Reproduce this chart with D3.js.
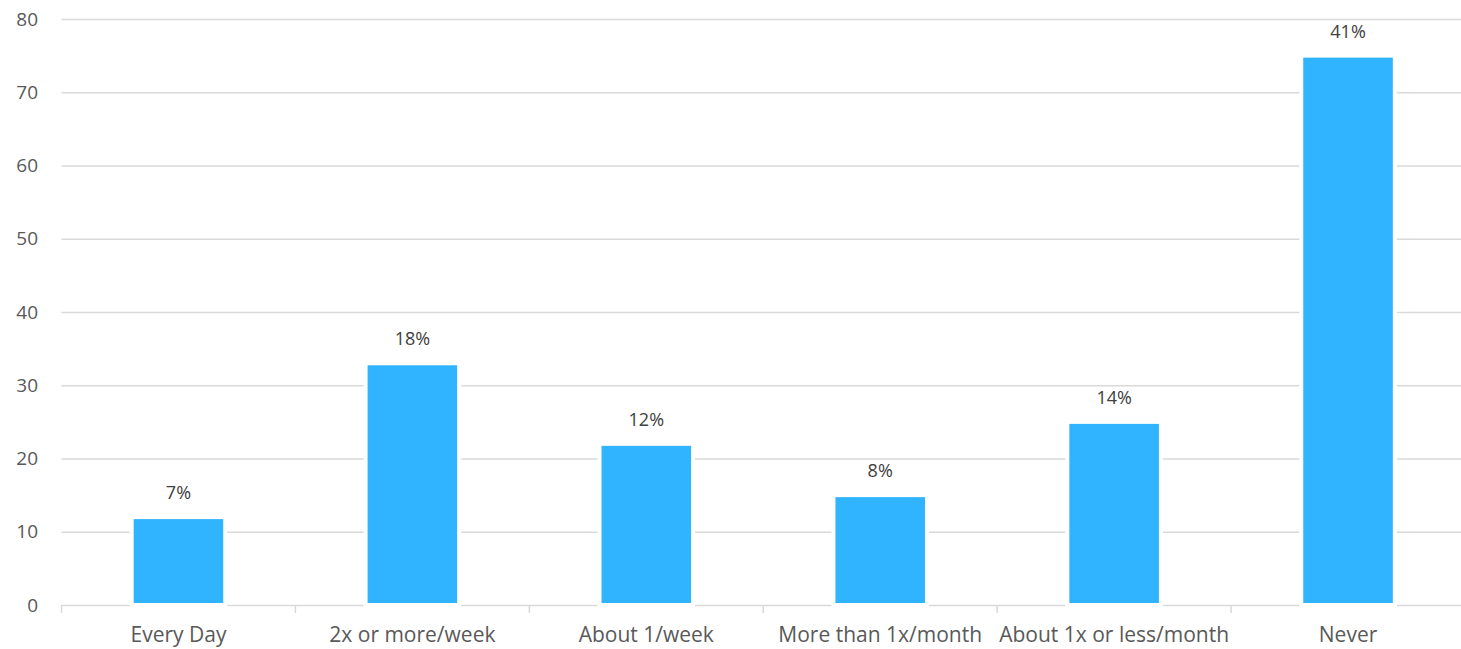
<!DOCTYPE html>
<html><head><meta charset="utf-8">
<script src="https://cdn.jsdelivr.net/npm/d3@7"></script>
<style>body{margin:0;background:#fff;overflow:hidden;} svg{display:block;}</style>
</head><body>
<svg id="c" width="1461" height="649"></svg>
<script>
const categories = ["Every Day","2x or more/week","About 1/week","More than 1x/month","About 1x or less/month","Never"];
const values = [12, 33, 22, 15, 25, 75];
const pctLabels = ["7%","18%","12%","8%","14%","41%"];
const yTicks = [0,10,20,30,40,50,60,70,80];

(function(){
const svg = d3.select("#c");
const mLeft = 61.5, mRight = 1465, mTop = 19, mBottom = 605;
const x = d3.scaleBand().domain(categories).range([mLeft, mRight]).padding(0);
const y = d3.scaleLinear().domain([0, 80]).range([mBottom, mTop]);
const font = "'Open Sans', sans-serif";

// gridlines
svg.append("g").selectAll("line").data(yTicks.filter(d=>d>0)).join("line")
  .attr("x1", mLeft).attr("x2", mRight)
  .attr("y1", d=>y(d)+0.5).attr("y2", d=>y(d)+0.5)
  .attr("stroke", "#d9d9d9").attr("stroke-width", 1.3);

// y labels
svg.append("g").selectAll("text").data(yTicks).join("text")
  .attr("x", 38).attr("y", d=>y(d)).attr("dy", "0.35em")
  .attr("text-anchor", "end").attr("font-family", font).attr("font-size", 19)
  .attr("fill", "#595959").text(d=>d);

// x axis
const xAxis = d3.axisBottom(x).tickSize(0).tickPadding(22);
const gx = svg.append("g").attr("transform", `translate(0,${mBottom})`).call(xAxis);
gx.select(".domain").remove();
gx.selectAll("text").attr("font-family", font).attr("font-size", 21).attr("fill", "#595959");
svg.append("line").attr("x1", mLeft).attr("x2", mRight).attr("y1", mBottom+0.5).attr("y2", mBottom+0.5)
  .attr("stroke", "#d9d9d9").attr("stroke-width", 1.5);
const bounds = categories.map(c=>x(c)).concat([mRight]);
svg.append("g").selectAll("line").data(bounds).join("line")
  .attr("x1", d=>d).attr("x2", d=>d).attr("y1", mBottom).attr("y2", mBottom+8)
  .attr("stroke", "#d9d9d9").attr("stroke-width", 1.5);

// bars
const bw = x.bandwidth()*0.40;
svg.append("g").selectAll("rect").data(values).join("rect")
  .attr("x", (d,i)=>x(categories[i]) + x.bandwidth()/2 - bw/2)
  .attr("y", d=>y(d))
  .attr("width", bw)
  .attr("height", d=>y(0)-y(d))
  .attr("fill", "#30b4ff").attr("stroke", "#fff").attr("stroke-width", 4);

// value labels
svg.append("g").selectAll("text").data(values).join("text")
  .attr("x", (d,i)=>x(categories[i]) + x.bandwidth()/2)
  .attr("y", d=>y(d) - 18)
  .attr("text-anchor", "middle").attr("font-family", font).attr("font-size", 18)
  .attr("fill", "#404040").text((d,i)=>pctLabels[i]);
})();
</script>
</body></html>
